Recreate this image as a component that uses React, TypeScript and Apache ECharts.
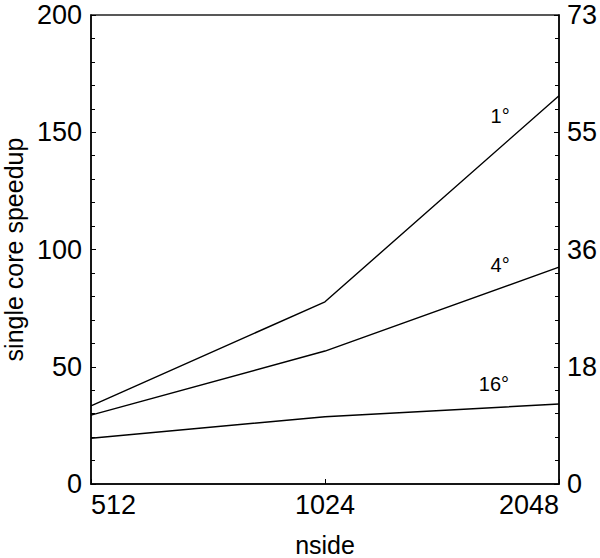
import React, { useEffect, useRef } from "react";
import * as echarts from "echarts";

const nsideValues = [512, 1024, 2048];
const speedup1deg = [33.3, 77.7, 165.6];
const speedup4deg = [29.4, 56.7, 92.5];
const speedup16deg = [19.5, 28.7, 34.1];
const rightTickLabels = ["0", "18", "36", "55", "73"];
const seriesNames = ["1°", "4°", "16°"];
// annotation anchor in data coordinates [nside, speedup]
const annotationCoords = [
  [1720, 156.9],
  [1720, 93.2],
  [1689, 42.6],
];

const FONT = "'Liberation Sans', Arial, Helvetica, sans-serif";

export default function App() {
  const ref = useRef<HTMLDivElement>(null);
  useEffect(() => {
    if (!ref.current) return;
    const chart = echarts.init(ref.current, null, { renderer: "svg" });
    const allSeries = [speedup1deg, speedup4deg, speedup16deg];
    const yCommon = {
      type: "value",
      min: 0,
      max: 200,
      interval: 50,
      axisLine: { show: true, lineStyle: { color: "#000", width: 1.5 } },
      axisTick: { show: true, inside: true, length: 5, lineStyle: { color: "#000" } },
      minorTick: { show: true, splitNumber: 5, length: 4, lineStyle: { color: "#000" } },
      splitLine: { show: false },
      minorSplitLine: { show: false },
    };
    chart.setOption({
      animation: false,
      backgroundColor: "#fff",
      textStyle: { fontFamily: FONT },
      grid: {
        left: 91,
        right: 41,
        top: 15,
        bottom: 74,
        outerBoundsMode: "none",
        containLabel: false,
        show: true,
        borderColor: "#222",
        borderWidth: 1.5,
        backgroundColor: "transparent",
      },
      xAxis: {
        type: "log",
        logBase: 2,
        min: 512,
        max: 2048,
        name: "nside",
        nameLocation: "middle",
        nameGap: 48,
        nameTextStyle: { fontSize: 25, color: "#000", fontFamily: FONT },
        axisLine: { show: true, lineStyle: { color: "#000", width: 1.5 } },
        axisTick: { show: true, inside: true, length: 5, lineStyle: { color: "#000" } },
        splitLine: { show: false },
        minorTick: { show: false },
        axisLabel: {
          fontSize: 27,
          color: "#000",
          margin: 7,
          fontFamily: FONT,
          alignMinLabel: "left",
          alignMaxLabel: "right",
          formatter: (v: number) => String(Math.round(v)),
        },
      },
      yAxis: [
        {
          ...yCommon,
          position: "left",
          name: "single core speedup",
          nameLocation: "middle",
          nameGap: 62,
          nameTextStyle: { fontSize: 25, color: "#000", fontFamily: FONT },
          axisLabel: { fontSize: 27, color: "#000", margin: 9, fontFamily: FONT },
        },
        {
          ...yCommon,
          position: "right",
          axisLabel: {
            fontSize: 27,
            color: "#000",
            margin: 8,
            fontFamily: FONT,
            formatter: (v: number) => rightTickLabels[Math.round(v / 50)] ?? "",
          },
        },
      ],
      series: allSeries.map((vals, i) => ({
        type: "line",
        name: seriesNames[i],
        yAxisIndex: 0,
        showSymbol: false,
        symbol: "none",
        lineStyle: { color: "#000", width: 1.4 },
        data: nsideValues.map((n, j) => [n, vals[j]]),
        markPoint: {
          symbol: "circle",
          symbolSize: 2,
          itemStyle: { color: "rgba(0,0,0,0)" },
          silent: true,
          data: [
            {
              coord: annotationCoords[i],
              label: {
                show: true,
                formatter: seriesNames[i],
                position: "inside",
                fontSize: 20,
                color: "#000",
                fontFamily: FONT,
              },
            },
          ],
        },
      })),
    });
    return () => chart.dispose();
  }, []);
  return (
    <div
      ref={ref}
      style={{ width: 600, height: 558, position: "absolute", left: 0, top: 0 }}
    />
  );
}
